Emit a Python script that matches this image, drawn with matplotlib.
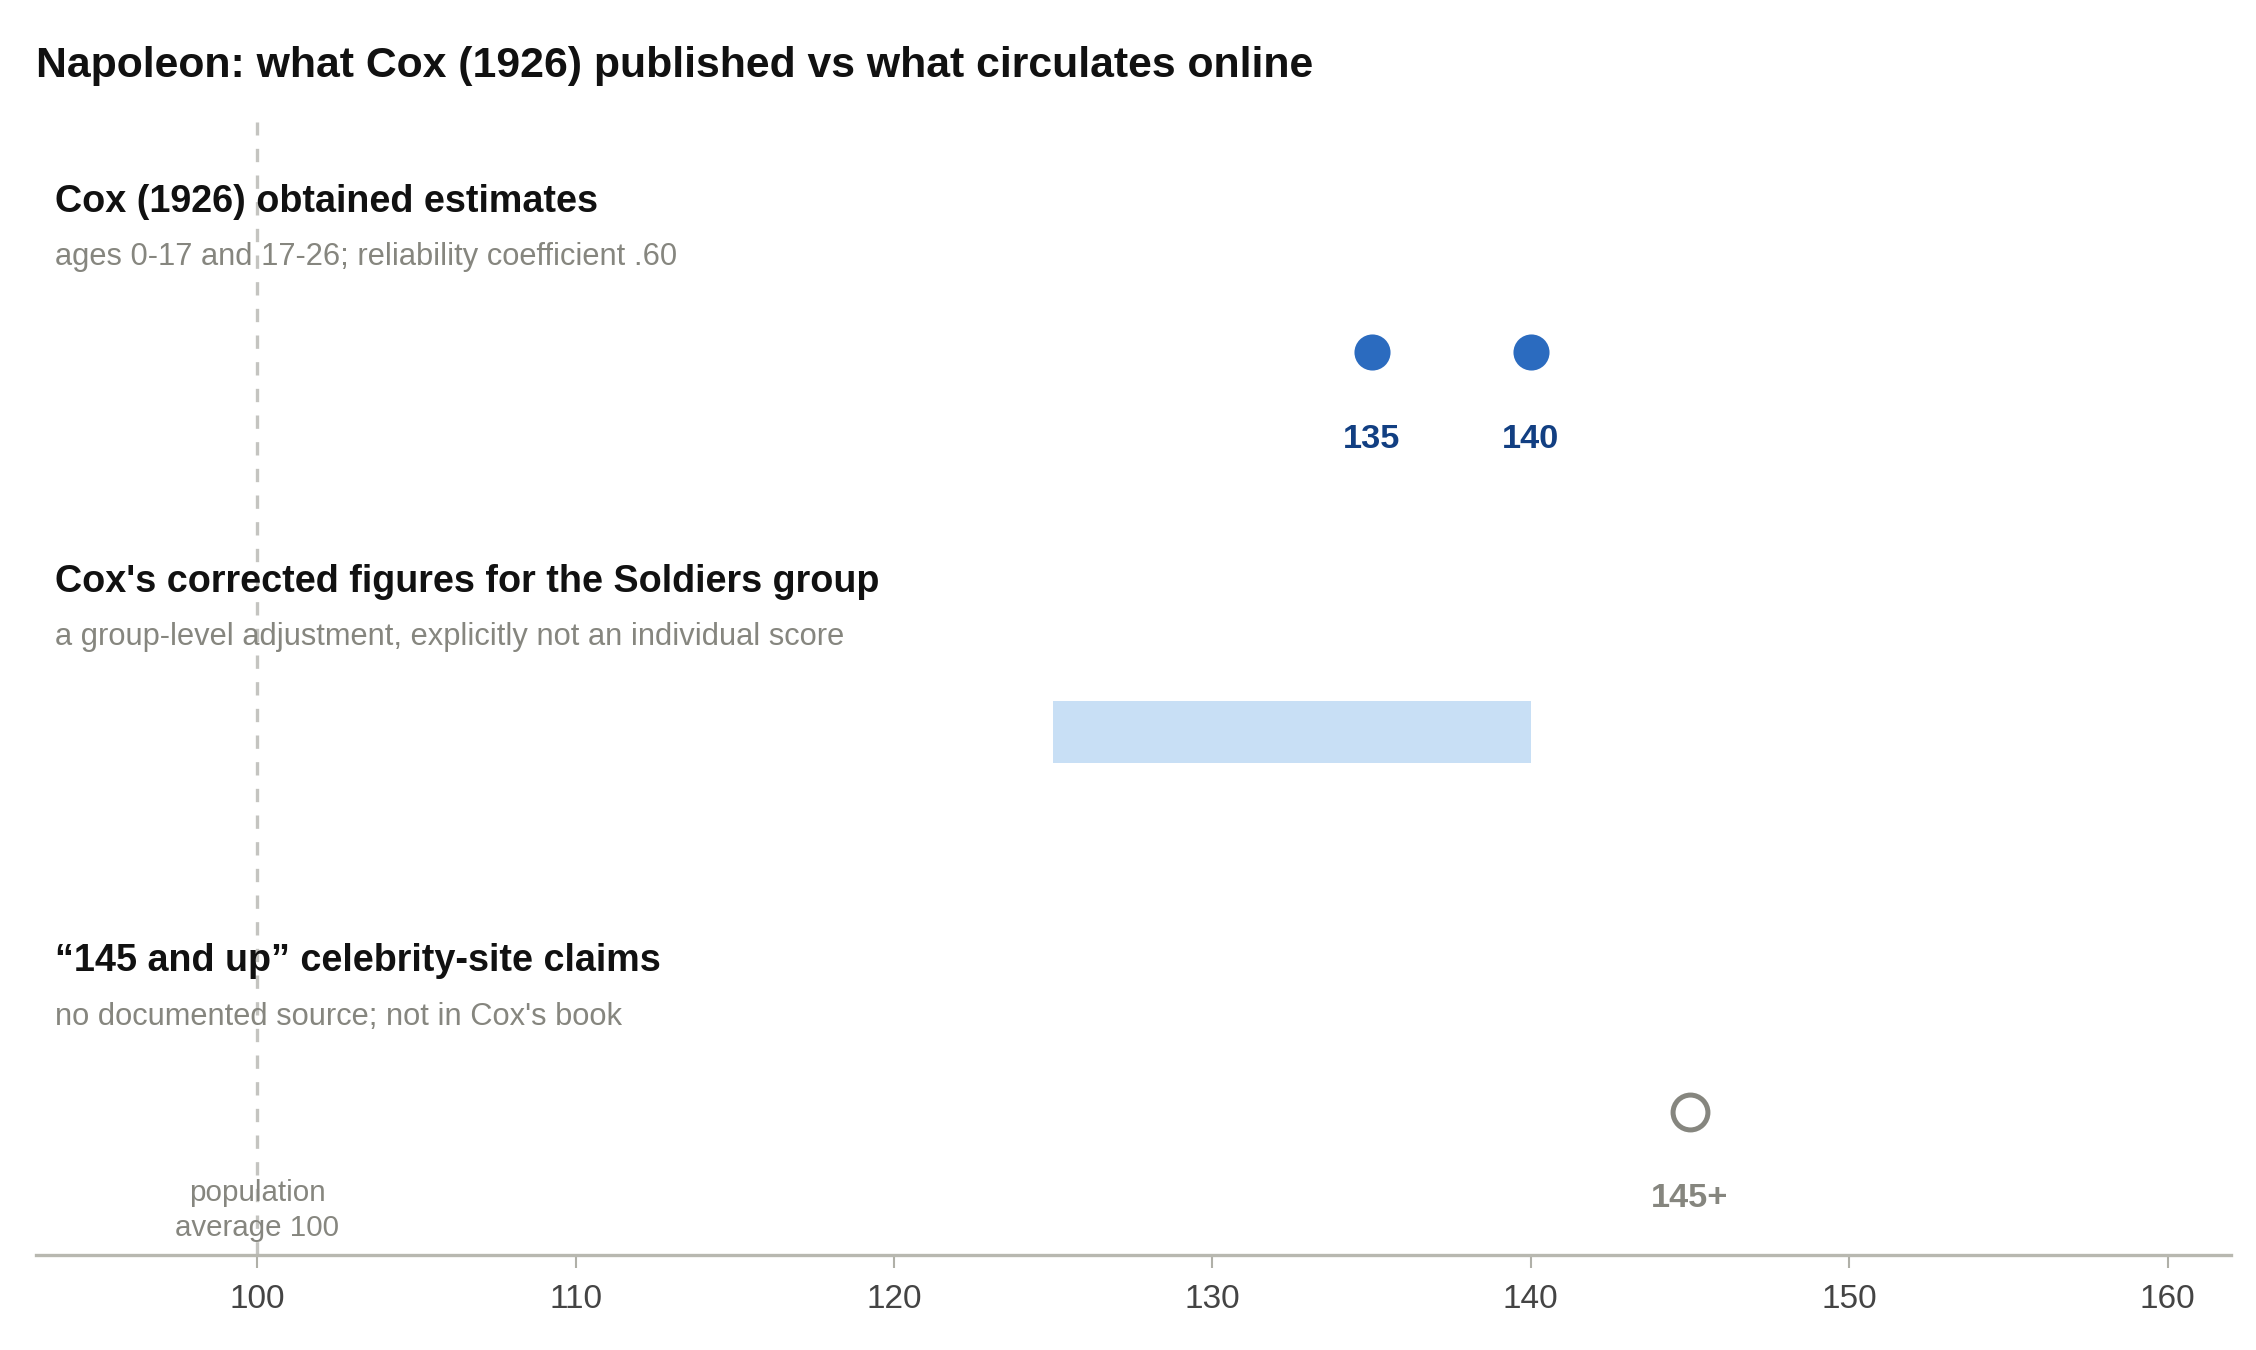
import numpy as np
import matplotlib.pyplot as plt
import matplotlib.transforms as mtransforms

plt.rcParams['font.family'] = ['Liberation Sans', 'DejaVu Sans']

# data
groups = ["Cox (1926) obtained estimates",
          "Cox's corrected figures for the Soldiers group",
          "\u201c145 and up\u201d celebrity-site claims"]
notes = ["ages 0-17 and 17-26; reliability coefficient .60",
         "a group-level adjustment, explicitly not an individual score",
         "no documented source; not in Cox's book"]
cox_estimates = [135, 140]
corrected_range = [125, 140]
online_claim = 145
online_label = "145+"
ticks = [100, 110, 120, 130, 140, 150, 160]
baseline = 100

blue = '#2b6bbf'
dark_blue = '#123f82'
light_blue = '#c8dff5'
grey = '#86867f'

fig = plt.figure(figsize=(15.04, 9), dpi=150)
ax = fig.add_axes([0.016, 0.0704, 0.973, 0.839])

ax.set_xlim(93.05, 162.0)
ax.set_ylim(2.377, -0.606)

# population average reference
ax.axvline(baseline, color='#c4c4c0', lw=1.6, ls=(0, (4, 4)), zorder=0)
ax.text(baseline, 2.26, "population\naverage 100", ha='center', va='center',
        fontsize=14.2, color=grey, linespacing=1.3)

# row 0: Cox estimates
ax.scatter(cox_estimates, [0] * len(cox_estimates), s=300, color=blue, zorder=3, linewidths=0)
for v in cox_estimates:
    ax.text(v, 0.229, str(v), ha='center', va='center', fontsize=16.5,
            fontweight='bold', color=dark_blue)

# row 1: corrected range
ax.barh(1, corrected_range[1] - corrected_range[0], left=corrected_range[0],
        height=0.164, color=light_blue, zorder=2)

# row 2: online claim
ax.scatter([online_claim], [2], s=280, facecolors='white', edgecolors=grey,
           linewidths=2.4, zorder=3)
ax.text(online_claim, 2.229, online_label, ha='center', va='center', fontsize=16.5,
        fontweight='bold', color=grey)

# group headings
trans = mtransforms.blended_transform_factory(ax.transAxes, ax.transData)
for i, (g, n) in enumerate(zip(groups, notes)):
    ax.text(0.0086, i - 0.396, g, transform=trans, ha='left', va='center',
            fontsize=18.1, fontweight='bold', color='#111111')
    ax.text(0.0086, i - 0.251, n, transform=trans, ha='left', va='center',
            fontsize=14.8, color=grey)

ax.set_xticks(ticks)
ax.set_xticklabels([str(t) for t in ticks])
ax.set_yticks([])
for s in ['top', 'right', 'left']:
    ax.spines[s].set_visible(False)
ax.spines['bottom'].set_color('#b8b8b0')
ax.spines['bottom'].set_linewidth(1.6)
ax.tick_params(axis='x', length=6, width=1, color='#b0b0a8', labelsize=16,
               labelcolor='#444444', pad=8)

fig.text(0.016, 0.951, "Napoleon: what Cox (1926) published vs what circulates online",
         ha='left', va='center', fontsize=20.5, fontweight='bold', color='#111111')

fig.savefig('out.png', dpi=150, facecolor='white')
